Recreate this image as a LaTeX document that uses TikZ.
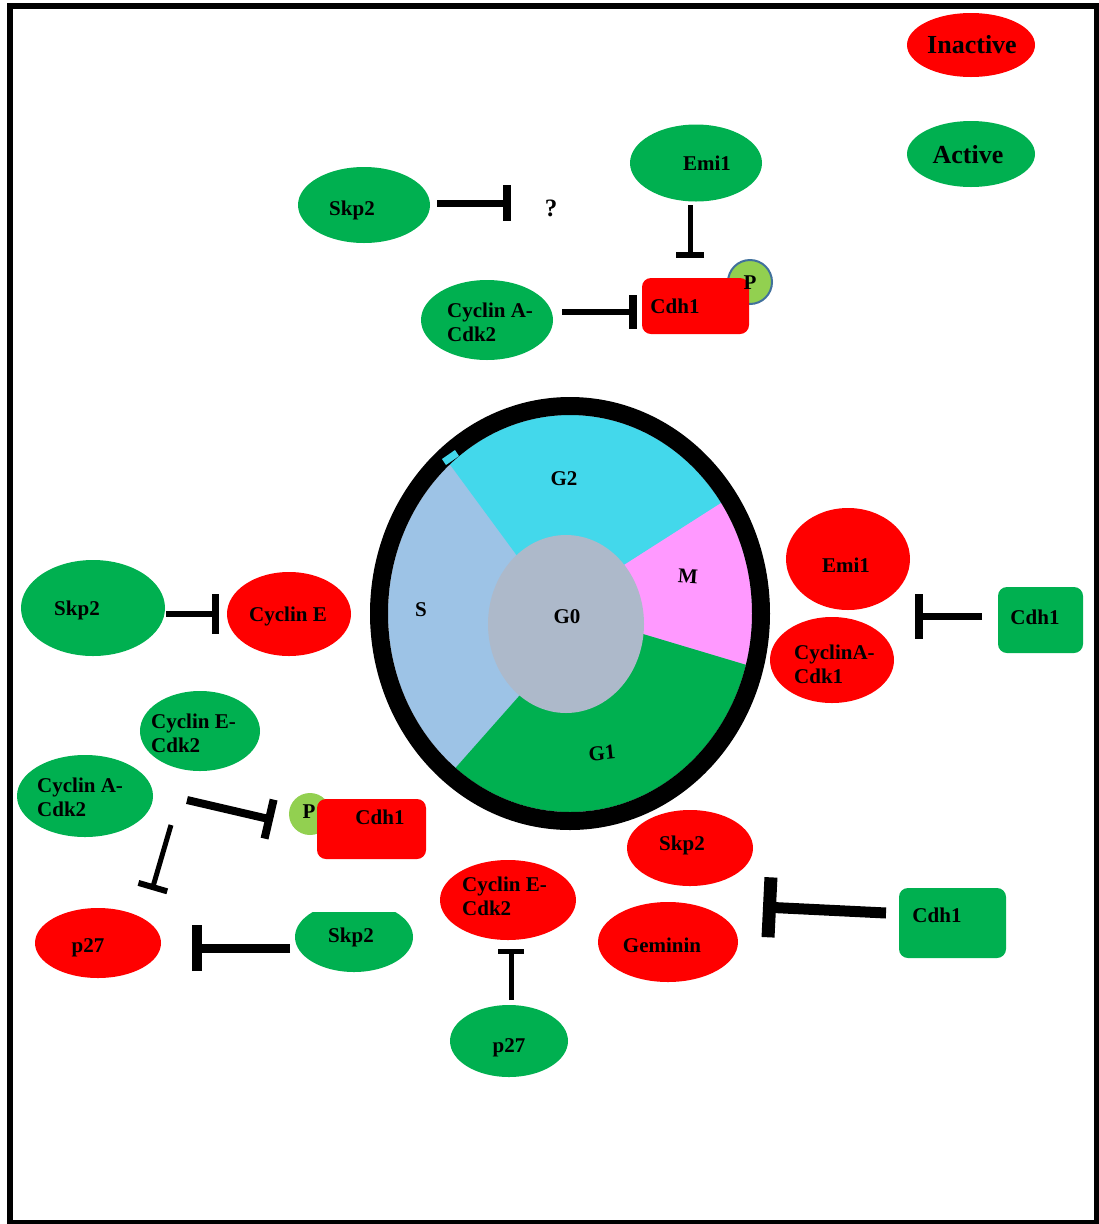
\documentclass[tikz,border=0pt]{standalone}
\usepackage{fontspec}
\setmainfont{Liberation Serif}
\usetikzlibrary{shapes.geometric,arrows.meta}
\definecolor{cgreen}{HTML}{00B050}
\definecolor{cred}{HTML}{FF0000}
\definecolor{ccyan}{HTML}{43D8EB}
\definecolor{csblue}{HTML}{9DC3E6}
\definecolor{cpink}{HTML}{FF99FF}
\definecolor{cgray}{HTML}{ADB9CA}
\definecolor{clime}{HTML}{92D050}
\definecolor{cpborder}{HTML}{41719C}
\tikzset{
  txt/.style={font=\fontsize{21}{24}\selectfont\bfseries, inner sep=0pt, text height=14pt, text depth=0pt},
  bigtxt/.style={font=\fontsize{26}{30}\selectfont\bfseries, inner sep=0pt, text height=17pt, text depth=0pt},
  mtxt/.style={font=\fontsize{21}{24}\selectfont\bfseries, inner sep=0pt, align=left, anchor=west},
  ell/.style={ellipse, draw=none, inner sep=0pt},
  gE/.style={ell, fill=cgreen},
  rE/.style={ell, fill=cred},
  box/.style={rectangle, rounded corners=9pt, draw=none, inner sep=0pt},
  pcirc/.style={circle, inner sep=0pt, fill=clime},
  inhib/.style args={#1/#2/#3}{line width=#1, -{Bar[width=#2, line width=#3]}},
}
\begin{document}
\begin{tikzpicture}[x=1pt,y=-1pt]
\useasboundingbox (0,0) rectangle (1099,1224);
\fill[white] (0,0) rectangle (1099,1224);
\draw[line width=6pt] (10,6) rectangle (1096.5,1222.5);

% ---------------- cell cycle wheel ----------------
\begin{scope}
  \clip (570,613.5) ellipse [x radius=182pt, y radius=198.5pt];
  \fill[csblue] (380,390) rectangle (780,840);
  \fill[ccyan] (566,622) -- (515,553) -- (415,417) -- (415,370) -- (790,370) -- (790,459) -- (624,565) -- cycle;
  \fill[cpink] (566,622) -- (624,565) -- (790,459) -- (790,678) -- (643,634) -- cycle;
  \fill[cgreen] (566,622) -- (643,634) -- (790,678) -- (790,860) -- (420,860) -- (420,808) -- (520,695) -- cycle;
\end{scope}
\draw[line width=18pt] (570,613.5) ellipse [x radius=191pt, y radius=207.5pt];
\fill[ccyan] (442,459) -- (455,450) -- (459,456) -- (446,465) -- cycle;
\node[ell, fill=cgray, minimum width=156pt, minimum height=178pt] (g0e) at (566,624) {};
\node[txt] (g2) at (564,478) {G2};
\node[txt] (s) at (421,609) {S};
\node[txt] (g0) at (567,616) {G0};
\node[txt, rotate=-4] (m) at (688,576) {M};
\node[txt, rotate=6] (g1) at (602,753) {G1};

% ---------------- legend ----------------
\node[rE, minimum width=128pt, minimum height=64pt] (inact) at (971,45) {};
\node[bigtxt] (inactt) at (972,45) {Inactive};
\node[gE, minimum width=128pt, minimum height=66pt] (act) at (971,154) {};
\node[bigtxt] (actt) at (968,155) {Active};

% ---------------- top ----------------
\node[gE, minimum width=132pt, minimum height=76pt] (skp2T) at (364,205) {};
\node[txt] (skp2Tt) at (352,208) {Skp2};
\node[font=\fontsize{25}{28}\selectfont\bfseries, inner sep=0pt] (q) at (551,208) {?};
\node[gE, minimum width=132pt, minimum height=77pt] (emi1T) at (696,163) {};
\node[txt] (emi1Tt) at (707,163) {Emi1};
\node[pcirc, draw=cpborder, line width=2pt, minimum size=44pt] (pT) at (750,282) {};
\node[box, fill=cred, minimum width=107pt, minimum height=56pt] (cdh1T) at (695.5,306) {};
\node[txt] (pTt) at (750,282) {P};
\node[txt] (cdh1Tt) at (675,306) {Cdh1};
\node[gE, minimum width=132pt, minimum height=80pt] (cycaT) at (487,320) {};
\node[mtxt] (cycaTt) at (447,322) {Cyclin A-\\Cdk2};

\coordinate (i1s) at (437,203); \coordinate (i1e) at (511,203);
\draw[inhib={7pt/36pt/8pt}] (i1s) -- (i1e);
\coordinate (i2s) at (690,205); \coordinate (i2e) at (690,258);
\draw[inhib={5pt/28pt/6pt}] (i2s) -- (i2e);
\coordinate (i3s) at (562,312); \coordinate (i3e) at (637,312);
\draw[inhib={6pt/34pt/8pt}] (i3s) -- (i3e);

% ---------------- left ----------------
\node[gE, minimum width=144pt, minimum height=96pt] (skp2L) at (93,608) {};
\node[txt] (skp2Lt) at (77,608) {Skp2};
\node[rE, minimum width=124pt, minimum height=84pt] (cyceL) at (289,614) {};
\node[txt] (cyceLt) at (288,614) {Cyclin E};
\coordinate (i4s) at (166,614); \coordinate (i4e) at (219,614);
\draw[inhib={6pt/40pt/7pt}] (i4s) -- (i4e);

\node[gE, minimum width=120pt, minimum height=80pt] (cyceG) at (200,731) {};
\node[mtxt] (cyceGt) at (151,733) {Cyclin E-\\Cdk2};
\node[gE, minimum width=136pt, minimum height=82pt] (cycaL) at (85,796) {};
\node[mtxt] (cycaLt) at (37,797) {Cyclin A-\\Cdk2};

\node[pcirc, minimum size=42pt] (pL) at (310,814) {};
\node[txt] (pLt) at (309,811) {P};
\node[box, fill=cred, minimum width=109pt, minimum height=60pt] (cdh1L) at (371.5,829) {};
\node[txt] (cdh1Lt) at (380,817) {Cdh1};

\coordinate (i6s) at (187,800); \coordinate (i6e) at (273,820);
\draw[inhib={8pt/40pt/8pt}] (i6s) -- (i6e);
\coordinate (i7s) at (171,825); \coordinate (i7e) at (152,890);
\draw[inhib={5pt/30pt/6pt}] (i7s) -- (i7e);

\node[rE, minimum width=126pt, minimum height=70pt] (p27L) at (98,943) {};
\node[txt] (p27Lt) at (88,945) {p27};
\node[gE, minimum width=118pt, minimum height=70pt] (skp2B) at (354,937) {};
\fill[white] (309,895) rectangle (403,912);
\node[txt] (skp2Bt) at (351,935) {Skp2};
\coordinate (i8s) at (290,948); \coordinate (i8e) at (192,948);
\draw[inhib={9pt/46pt/10pt}] (i8s) -- (i8e);

% ---------------- bottom ----------------
\node[rE, minimum width=136pt, minimum height=80pt] (cyceB) at (508,900) {};
\node[mtxt] (cyceBt) at (462,896) {Cyclin E-\\Cdk2};
\node[gE, minimum width=118pt, minimum height=72pt] (p27B) at (509,1041) {};
\node[txt] (p27Bt) at (509,1045) {p27};
\coordinate (i9s) at (511,1000); \coordinate (i9e) at (511,949);
\draw[inhib={5pt/26pt/5pt}] (i9s) -- (i9e);

\node[rE, minimum width=126pt, minimum height=76pt] (skp2R) at (690,848) {};
\node[txt] (skp2Rt) at (682,843) {Skp2};
\node[rE, minimum width=140pt, minimum height=80pt] (gem) at (668,942) {};
\node[txt] (gemt) at (662,945) {Geminin};
\node[box, fill=cgreen, minimum width=107pt, minimum height=70pt] (cdh1B) at (952.5,923) {};
\node[txt] (cdh1Bt) at (937,915) {Cdh1};
\coordinate (i10s) at (886,913); \coordinate (i10e) at (763,907);
\draw[inhib={11pt/60pt/13pt}] (i10s) -- (i10e);

% ---------------- right ----------------
\node[rE, minimum width=124pt, minimum height=102pt] (emi1R) at (848,559) {};
\node[txt] (emi1Rt) at (846,565) {Emi1};
\node[rE, minimum width=124pt, minimum height=86pt] (cycaR) at (832,660) {};
\node[mtxt] (cycaRt) at (794,664) {CyclinA-\\Cdk1};
\node[box, fill=cgreen, minimum width=85pt, minimum height=66pt] (cdh1R) at (1040.5,620) {};
\node[txt] (cdh1Rt) at (1035,617) {Cdh1};
\coordinate (i5s) at (982,616); \coordinate (i5e) at (915,616);
\draw[inhib={7pt/45pt/8pt}] (i5s) -- (i5e);
\end{tikzpicture}
\end{document}
